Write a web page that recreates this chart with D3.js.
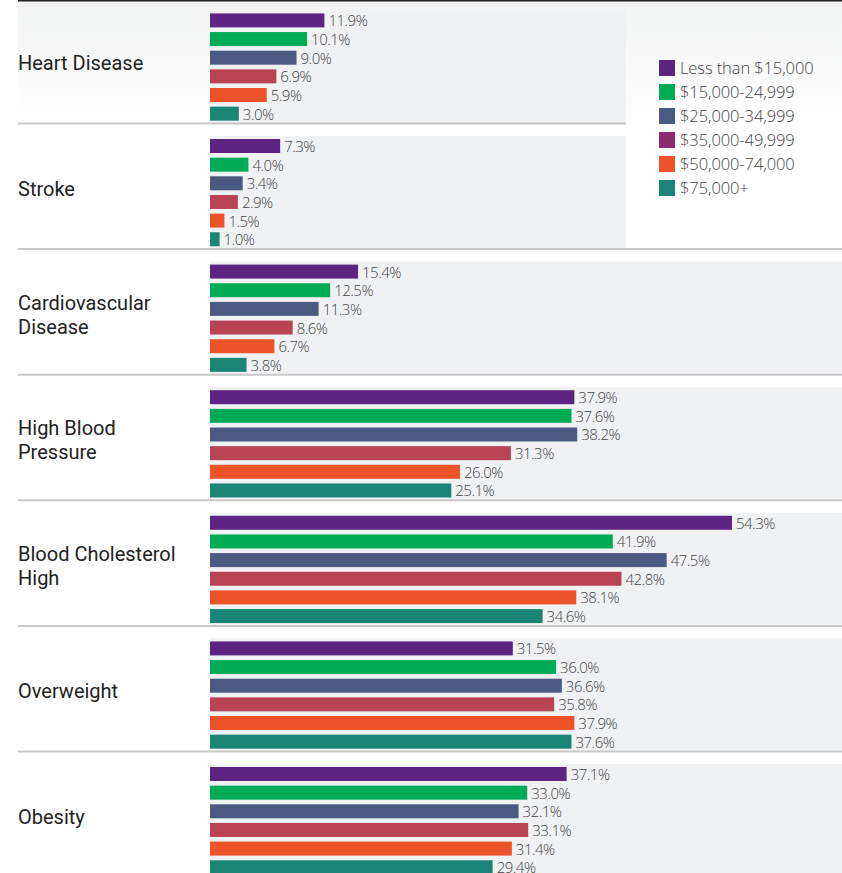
<!DOCTYPE html>
<html>
<head>
<meta charset="utf-8">
<script src="https://cdn.jsdelivr.net/npm/d3@7"></script>
<style>
  body { margin: 0; background: #fff; }
  svg { display: block; font-family: Roboto, "Noto Sans", sans-serif; }
  .thin { font-family: "Open Sans", Roboto, sans-serif; font-weight: 300; }
</style>
</head>
<body>
<svg id="chart" width="842" height="873"></svg>
<script>
// chart data
var categories = ["Heart Disease", "Stroke", "Cardiovascular Disease", "High Blood Pressure",
  "Blood Cholesterol High", "Overweight", "Obesity"];
var categoryLines = [["Heart Disease"], ["Stroke"], ["Cardiovascular", "Disease"], ["High Blood", "Pressure"],
  ["Blood Cholesterol", "High"], ["Overweight"], ["Obesity"]];
var incomes = ["Less than $15,000", "$15,000-24,999", "$25,000-34,999", "$35,000-49,999",
  "$50,000-74,000", "$75,000+"];

// one array per income group, in category order
var lessThan15k = [11.9, 7.3, 15.4, 37.9, 54.3, 31.5, 37.1];
var from15k = [10.1, 4.0, 12.5, 37.6, 41.9, 36.0, 33.0];
var from25k = [9.0, 3.4, 11.3, 38.2, 47.5, 36.6, 32.1];
var from35k = [6.9, 2.9, 8.6, 31.3, 42.8, 35.8, 33.1];
var from50k = [5.9, 1.5, 6.7, 26.0, 38.1, 37.9, 31.4];
var from75k = [3.0, 1.0, 3.8, 25.1, 34.6, 37.6, 29.4];
var series = [lessThan15k, from15k, from25k, from35k, from50k, from75k];

var barColors = ["#5d2482", "#00ab56", "#4b5a81", "#b94353", "#ec5329", "#1a8476"];
var legendColors = ["#5d2482", "#00ab56", "#4b5a81", "#8c2c6d", "#ec5329", "#1a8476"];

// layout
var width = 842;
var left = 18;
var barLeft = 210;
var groupH = 125.6;
var top0 = -2.6;
var legendLeft = 626;

var svg = d3.select("#chart");
var defs = svg.append("defs");

var grad = defs.append("linearGradient")
  .attr("id", "topfade")
  .attr("x1", 0).attr("y1", 0).attr("x2", 0).attr("y2", 1);
grad.append("stop").attr("offset", "0%").attr("stop-color", "#f2f3f3");
grad.append("stop").attr("offset", "100%").attr("stop-color", "#ffffff");

// scales
var y = d3.scaleBand()
  .domain(categories)
  .range([top0, top0 + groupH * categories.length]);

var yInner = d3.scaleBand()
  .domain(incomes)
  .range([16, 16 + 5 * 18.65 + 14])
  .paddingInner(0.25)
  .paddingOuter(0);

var x = d3.scaleLinear()
  .domain([0, 60])
  .range([barLeft, barLeft + 576.8]);

// faded background at the top
svg.append("rect")
  .attr("x", left).attr("y", 1)
  .attr("width", width - left).attr("height", 124)
  .attr("fill", "url(#topfade)");

// groups
var groups = svg.selectAll("g.group")
  .data(categories)
  .enter()
  .append("g")
  .attr("class", "group")
  .attr("transform", d => "translate(0," + y(d) + ")");

// panel behind the bars (first two stop at the legend)
groups.append("rect")
  .attr("x", barLeft)
  .attr("y", 13)
  .attr("width", (d, i) => (i < 2 ? legendLeft : width) - barLeft)
  .attr("height", groupH - 13)
  .attr("fill", "#f0f1f3");

// bars
groups.each(function (cat, ci) {
  var g = d3.select(this);
  var rows = incomes.map((inc, si) => ({ inc: inc, value: series[si][ci], color: barColors[si] }));

  g.selectAll("rect.bar")
    .data(rows)
    .enter()
    .append("rect")
    .attr("class", "bar")
    .attr("x", x(0))
    .attr("y", d => yInner(d.inc))
    .attr("width", d => x(d.value) - x(0))
    .attr("height", yInner.bandwidth())
    .attr("fill", d => d.color);

  g.selectAll("text.value")
    .data(rows)
    .enter()
    .append("text")
    .attr("class", "value thin")
    .attr("x", d => x(d.value) + 4)
    .attr("y", d => yInner(d.inc) + yInner.bandwidth() / 2 + 6)
    .attr("fill", "#444")
    .attr("font-size", 15)
    .attr("letter-spacing", -0.5)
    .text(d => d.value.toFixed(1) + "%");

  // category label
  var lines = categoryLines[ci];
  var mid = 66;
  g.append("text")
    .attr("fill", "#222")
    .attr("font-size", 20)
    .selectAll("tspan")
    .data(lines)
    .enter()
    .append("tspan")
    .attr("x", left)
    .attr("y", (d, i) => mid + 7 + (i - (lines.length - 1) / 2) * 24)
    .text(d => d);
});

// legend box
svg.append("rect")
  .attr("x", legendLeft).attr("y", 1)
  .attr("width", width - legendLeft).attr("height", 124)
  .attr("fill", "url(#topfade)");
svg.append("rect")
  .attr("x", legendLeft).attr("y", 125)
  .attr("width", width - legendLeft).attr("height", y(categories[2]) - 125)
  .attr("fill", "#fff");

// separators
svg.selectAll("line.sep")
  .data(categories.slice(1))
  .enter()
  .append("line")
  .attr("x1", left)
  .attr("x2", (d, i) => (i === 0 ? legendLeft : width))
  .attr("y1", d => y(d) + 0.5)
  .attr("y2", d => y(d) + 0.5)
  .attr("stroke", "#c8c8c8")
  .attr("stroke-width", 2);

// top rule
svg.append("line")
  .attr("x1", left).attr("x2", width)
  .attr("y1", 0.5).attr("y2", 0.5)
  .attr("stroke", "#222")
  .attr("stroke-width", 2);

var legend = svg.append("g")
  .attr("transform", "translate(659,60)");
var items = legend.selectAll("g")
  .data(incomes)
  .enter()
  .append("g")
  .attr("transform", (d, i) => "translate(0," + i * 24 + ")");
items.append("rect")
  .attr("width", 16).attr("height", 16)
  .attr("fill", (d, i) => legendColors[i]);
items.append("text")
  .attr("class", "thin")
  .attr("x", 21)
  .attr("y", 14)
  .attr("fill", "#444")
  .attr("font-size", 16.5)
  .attr("letter-spacing", -0.1)
  .text(d => d);
</script>
</body>
</html>
